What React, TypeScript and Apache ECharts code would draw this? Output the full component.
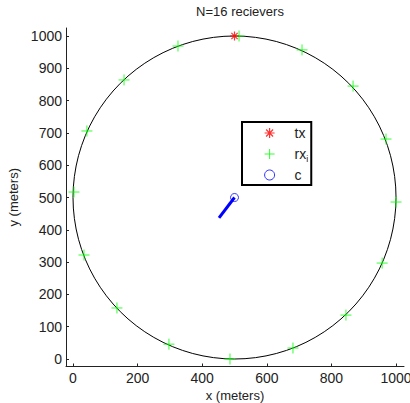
import React, { useEffect, useRef } from "react";
import * as echarts from "echarts";

const titleText = "N=16 recievers";
const xTicks = [0, 200, 400, 600, 800, 1000];
const yTicks = [0, 100, 200, 300, 400, 500, 600, 700, 800, 900, 1000];
const receivers: [number, number][] = [
  [514, 1000], [325, 969], [158, 864], [43, 706], [3, 517], [34, 322],
  [136, 158], [297, 46], [486, 0], [681, 34], [845, 136], [957, 297],
  [1000, 486], [969, 681], [867, 845], [709, 957],
];
const transmitter: [number, number][] = [[500, 1000]];
const center: [number, number][] = [[500, 500]];
const estimateLine: [number, number][] = [[500, 500], [452, 437]];
const circleSpec = [[500, 500, 500]];

const PLUS = "path://M5,0L5,10M0,5L10,5";
const STAR = "path://M5,0L5,10M0,5L10,5M1.5,1.5L8.5,8.5M1.5,8.5L8.5,1.5";
const FONT = "Liberation Sans, Arial, sans-serif";
const TXT = "#222";

export default function App() {
  const ref = useRef<HTMLDivElement>(null);
  useEffect(() => {
    if (!ref.current) return;
    const chart = echarts.init(ref.current, undefined, { renderer: "svg" });
    chart.setOption({
      animation: false,
      textStyle: { fontFamily: FONT },
      title: {
        text: titleText,
        left: 235,
        textAlign: "center",
        top: 0,
        textStyle: { fontSize: 13, fontWeight: "normal", color: TXT, fontFamily: FONT },
      },
      grid: { left: 66, right: 6, top: 28, bottom: 36.5, containLabel: false, outerBoundsMode: "none" },
      xAxis: {
        type: "value",
        min: -21.7,
        max: 1024.7,
        name: "x (meters)",
        nameLocation: "middle",
        nameGap: 21,
        nameTextStyle: { fontSize: 13, color: TXT, fontFamily: FONT },
        axisLine: { onZero: false, lineStyle: { color: "#222", width: 1 } },
        axisTick: { inside: true, length: 3, customValues: xTicks, lineStyle: { color: "#222" } },
        axisLabel: { customValues: xTicks, formatter: (v: number) => String(v), fontSize: 14, color: TXT, margin: 4, fontFamily: FONT },
        splitLine: { show: false },
      },
      yAxis: {
        type: "value",
        min: -23.2,
        max: 1024.8,
        name: "y (meters)",
        nameLocation: "middle",
        nameGap: 35,
        nameTextStyle: { fontSize: 13, color: TXT, fontFamily: FONT },
        axisLine: { onZero: false, lineStyle: { color: "#222", width: 1 } },
        axisTick: { inside: true, length: 3, customValues: yTicks, lineStyle: { color: "#222" } },
        axisLabel: { customValues: yTicks, formatter: (v: number) => String(v), fontSize: 14, color: TXT, margin: 4, fontFamily: FONT },
        splitLine: { show: false },
      },
      legend: {
        orient: "vertical",
        left: 242,
        top: 122,
        padding: [4, 3, 3, 22],
        itemGap: 5,
        itemWidth: 10,
        itemHeight: 10,
        borderColor: "#000",
        borderWidth: 2,
        backgroundColor: "#fff",
        selectedMode: false,
        data: [
          { name: "tx", icon: STAR, itemStyle: { color: "transparent", borderColor: "#ff0000", borderWidth: 1.2 } },
          { name: "rx", icon: PLUS, itemStyle: { color: "transparent", borderColor: "#00ff00", borderWidth: 1 } },
          { name: "c", icon: "circle", itemStyle: { color: "transparent", borderColor: "#0000ff", borderWidth: 1 } },
        ],
        formatter: (n: string) => (n === "rx" ? "{n|rx}{s|i}" : "{n|" + n + "}"),
        textStyle: {
          color: TXT,
          fontFamily: FONT,
          rich: {
            n: { fontSize: 14, lineHeight: 16, padding: [0, 0, 0, 15], color: TXT, fontFamily: FONT },
            s: { fontSize: 9, lineHeight: 16, padding: [9, 0, 0, 0], color: TXT, fontFamily: FONT },
          },
        },
      },
      series: [
        {
          type: "custom",
          name: "circle",
          silent: true,
          clip: false,
          data: circleSpec,
          encode: { x: 0, y: 1 },
          renderItem: (params: any, api: any) => {
            const c = api.coord([api.value(0), api.value(1)]);
            const r = api.size([api.value(2), 0])[0];
            return {
              type: "circle",
              shape: { cx: c[0], cy: c[1], r },
              style: { fill: "none", stroke: "#000", lineWidth: 1 },
            };
          },
          z: 1,
        },
        {
          type: "line",
          name: "est",
          data: estimateLine,
          symbol: "none",
          lineStyle: { color: "#0000ff", width: 3 },
          z: 2,
        },
        {
          type: "scatter",
          name: "rx",
          data: receivers,
          symbol: PLUS,
          symbolSize: 11,
          itemStyle: { color: "transparent", borderColor: "#00ff00", borderWidth: 1 },
          z: 3,
        },
        {
          type: "scatter",
          name: "tx",
          data: transmitter,
          symbol: STAR,
          symbolSize: 9,
          itemStyle: { color: "transparent", borderColor: "#ff0000", borderWidth: 1.2 },
          z: 4,
        },
        {
          type: "scatter",
          name: "c",
          data: center,
          symbol: "circle",
          symbolSize: 8,
          itemStyle: { color: "transparent", borderColor: "#0000ff", borderWidth: 1 },
          z: 4,
        },
      ],
    });
    return () => chart.dispose();
  }, []);
  return <div ref={ref} style={{ width: 410, height: 403, position: "absolute", left: 0, top: 0 }} />;
}
